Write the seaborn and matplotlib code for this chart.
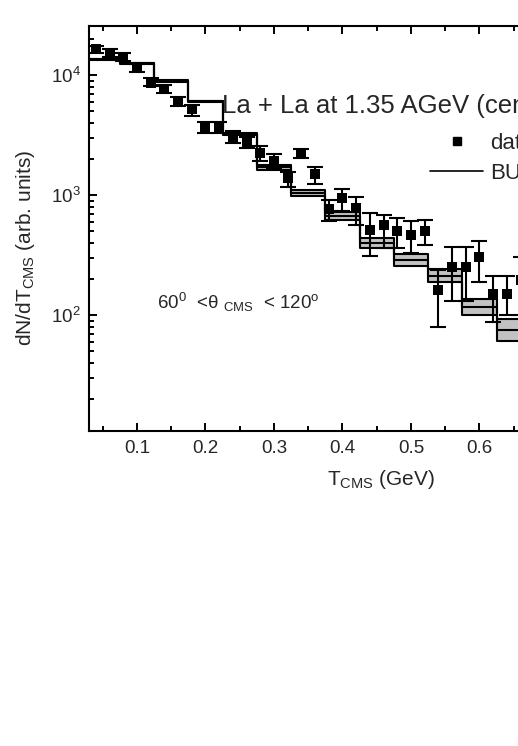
import numpy as np
import matplotlib
matplotlib.use("Agg")
import matplotlib.pyplot as plt
import seaborn as sns
from matplotlib.lines import Line2D
from matplotlib.ticker import MultipleLocator, LogLocator, NullFormatter, LogFormatterSciNotation

# ---------------- data ----------------
t_data = [0.04, 0.06, 0.08, 0.10, 0.12, 0.14, 0.16, 0.18, 0.20, 0.22, 0.24, 0.26,
          0.28, 0.30, 0.32, 0.34, 0.36, 0.38, 0.40, 0.42, 0.44, 0.46, 0.48, 0.50,
          0.52, 0.54, 0.56, 0.58, 0.60, 0.62, 0.64, 0.66]
dn_data = [16400, 15300, 14200, 11400, 8630, 7690, 6110, 5180, 3710, 3710, 3030, 2730,
           2250, 1920, 1380, 2220, 1500, 760, 944, 775, 511, 562, 503, 464,
           503, 162, 253, 253, 303, 150, 150, 195]
dn_lo = [15200, 14200, 13100, 10500, 8100, 7100, 5500, 4550, 3300, 3300, 2700, 2450,
         1920, 1680, 1170, 2040, 1226, 610, 730, 562, 310, 365, 365, 330,
         383, 80, 130, 130, 187, 88, 100, 100]
dn_hi = [17500, 16500, 15300, 12300, 9400, 8300, 6600, 5650, 4100, 4100, 3450, 3050,
         2560, 2195, 1565, 2420, 1727, 910, 1122, 967, 712, 688, 646, 610,
         620, 237, 371, 371, 412, 211, 211, 305]

bin_edges = [0.025, 0.075, 0.125, 0.175, 0.225, 0.275, 0.325, 0.375, 0.425,
             0.475, 0.525, 0.575, 0.625, 0.675]
buu_mid = [13500, 12500, 8970, 6040, 3220, 1700, 1035, 668, 398, 288, 213, 117, 75]
buu_lo = [13300, 12300, 8830, 5950, 3170, 1620, 980, 620, 365, 259, 188, 100, 61]
buu_hi = [13700, 12700, 9110, 6130, 3270, 1780, 1096, 720, 435, 320, 241, 136, 92]

x_major_ticks = [0.1, 0.2, 0.3, 0.4, 0.5, 0.6]
title_text = "La + La at 1.35 AGeV (central)"
angle_text = r"60$^0$  <θ $_{\mathrm{CMS}}$  < 120$^{\mathrm{o}}$"
legend_labels = ["data", "BUU"]

# ---------------- style ----------------
sns.set_style("ticks")
plt.rcParams["font.family"] = ["Liberation Sans", "DejaVu Sans"]
plt.rcParams["mathtext.fontset"] = "custom"
plt.rcParams["mathtext.rm"] = "Liberation Sans"
plt.rcParams["mathtext.it"] = "Liberation Sans:italic"
plt.rcParams["mathtext.bf"] = "Liberation Sans:bold"

W, H = 518, 746
fig = plt.figure(figsize=(W / 100, H / 100), dpi=100)
fig.patch.set_facecolor("white")
ax_left, ax_top, ax_bottom = 89, 25.7, 430.7
xlim = (0.03, 0.80)
px_per_x = 685.0
ax_w = (xlim[1] - xlim[0]) * px_per_x
ax_h = ax_bottom - ax_top
ax = fig.add_axes([ax_left / W, (H - ax_bottom) / H, ax_w / W, ax_h / H])
ax.set_facecolor("white")

# ---------------- model band (BUU) ----------------
edges = np.array(bin_edges)
mid_ext = np.append(buu_mid, buu_mid[-1])
lo_ext = np.append(buu_lo, buu_lo[-1])
hi_ext = np.append(buu_hi, buu_hi[-1])
ax.fill_between(edges, lo_ext, hi_ext, step="post", color="#c2c2c2", linewidth=0, zorder=1)
for arr in (lo_ext, hi_ext, mid_ext):
    sns.lineplot(x=edges, y=arr, drawstyle="steps-post", color="black", linewidth=1.5,
                 estimator=None, sort=False, ax=ax, zorder=2)

# ---------------- data points ----------------
t = np.array(t_data)
y = np.array(dn_data)
yerr = [y - np.array(dn_lo), np.array(dn_hi) - y]
ax.errorbar(t, y, yerr=yerr, fmt="none", ecolor="black", elinewidth=1.5,
            capsize=5.5, capthick=1.5, zorder=3)
sns.scatterplot(x=t, y=y, marker="s", color="black", s=48, linewidth=0, ax=ax, zorder=4)

# ---------------- axes ----------------
ax.set_yscale("log")
ax.set_xlim(*xlim)
ax.set_ylim(10.9, 25750)
ax.set_xticks(x_major_ticks)
ax.set_xticklabels([f"{v:.1f}" for v in x_major_ticks])
ax.xaxis.set_minor_locator(MultipleLocator(0.05))
ax.yaxis.set_major_locator(LogLocator(base=10))
ax.yaxis.set_major_formatter(LogFormatterSciNotation())
ax.yaxis.set_minor_locator(LogLocator(base=10, subs=np.arange(2, 10)))
ax.yaxis.set_minor_formatter(NullFormatter())

for s in ax.spines.values():
    s.set_linewidth(1.5)
    s.set_color("black")
ax.tick_params(which="both", direction="in", top=True, right=True, width=1.4, color="black")
ax.tick_params(which="major", length=6)
ax.tick_params(which="minor", length=3.6)
ax.tick_params(axis="x", which="major", labelsize=13.5, pad=7)
ax.tick_params(axis="y", which="major", labelsize=13.5, pad=6)

ax.set_xlabel(r"T$_{\mathrm{CMS}}$ (GeV)", fontsize=15)
ax.set_ylabel(r"dN/dT$_{\mathrm{CMS}}$ (arb. units)", fontsize=15)
ax.xaxis.set_label_coords((381 - ax_left) / ax_w, -(485 - ax_bottom) / ax_h)
ax.yaxis.set_label_coords(-(89 - 37) / ax_w, (ax_bottom - 247.5) / ax_h)
ax.xaxis.label.set_va("baseline")

ax.text((222 - ax_left) / ax_w, (ax_bottom - 113) / ax_h, title_text,
        transform=ax.transAxes, fontsize=18.5, ha="left", va="baseline")
ax.text((157 - ax_left) / ax_w, (ax_bottom - 309) / ax_h, angle_text,
        transform=ax.transAxes, fontsize=13.5, ha="left", va="baseline")

handles = [Line2D([], [], marker="s", color="black", linestyle="none", markersize=6),
           Line2D([], [], color="black", linewidth=1.2)]
ax.legend(handles, legend_labels, loc="center left", frameon=False,
          bbox_to_anchor=((430 - ax_left) / ax_w, (ax_bottom - 158.5) / ax_h),
          borderpad=0, borderaxespad=0, handlelength=2.4, handletextpad=0.3,
          labelspacing=0.4, fontsize=16)

fig.savefig("out.png", dpi=100)
